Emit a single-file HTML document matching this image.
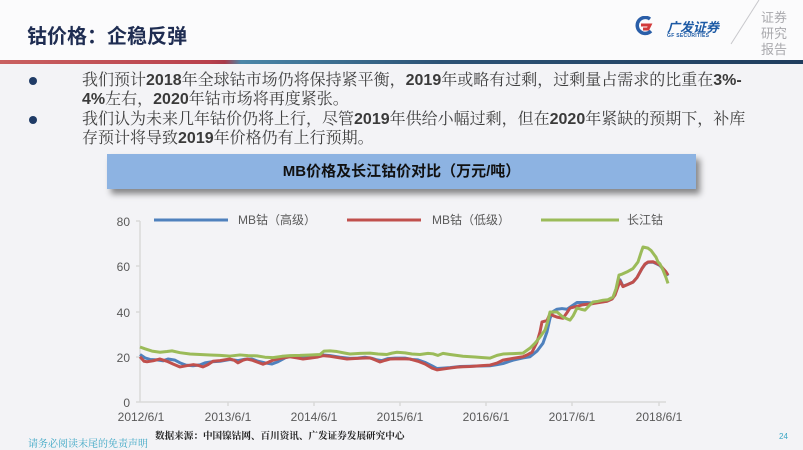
<!DOCTYPE html>
<html>
<head>
<meta charset="utf-8">
<style>
html,body{margin:0;padding:0;}
body{width:803px;height:449px;overflow:hidden;position:relative;background:#f3f3f6;font-family:"Liberation Sans","Noto Sans CJK SC",sans-serif;}
.top{position:absolute;left:0;top:0;width:803px;height:60px;background:#fbfbfc;}
.title{position:absolute;left:27px;top:20px;font-size:20px;font-weight:bold;color:#1f2d52;letter-spacing:0px;font-family:"Liberation Sans","Noto Sans CJK SC",sans-serif;}
.gline{position:absolute;left:0;top:60px;width:803px;height:4px;background:linear-gradient(to right,#c96060 0%,#b8404c 26%,#a83a4a 28%,#4a86a8 30%,#2c5275 55%,#1f3d5e 100%);}
.bul{position:absolute;left:29px;width:8px;height:8px;border-radius:50%;background:#1f3b66;}
.txt{position:absolute;left:82px;font-size:16px;color:#404040;font-family:"Liberation Sans","Noto Serif CJK SC","Noto Sans CJK SC",sans-serif;white-space:nowrap;line-height:19px;}
.txt b{font-family:"Liberation Sans",sans-serif;font-weight:bold;color:#3a3a3a;}
.banner{position:absolute;left:107px;top:154px;width:589px;height:35px;background:#8db3e2;box-shadow:4px 5px 6px rgba(0,0,0,0.45);text-align:center;line-height:35px;font-size:15px;font-weight:bold;color:#111;font-family:"Liberation Sans","Noto Sans CJK SC",sans-serif;}
.src{position:absolute;left:155px;top:428px;font-size:9.6px;font-weight:bold;color:#222;font-family:"Liberation Sans","Noto Serif CJK SC",sans-serif;white-space:nowrap;}
.disc{position:absolute;left:28px;top:435px;font-size:10px;color:#3aa6c4;font-family:"Liberation Sans","Noto Serif CJK SC",sans-serif;white-space:nowrap;}
.pg{position:absolute;left:779px;top:432px;font-size:8px;color:#3aa6c4;}
.logo-t{position:absolute;left:667px;top:17px;font-size:13px;font-weight:bold;color:#1d5aa5;font-style:italic;letter-spacing:0px;white-space:nowrap;}
.logo-s{position:absolute;left:667px;top:33px;font-size:5px;font-weight:bold;color:#1d5aa5;white-space:nowrap;letter-spacing:0.3px;}
.side{position:absolute;left:761px;top:10px;font-size:13px;line-height:16px;color:#a9a9ad;width:30px;font-family:"Liberation Sans","Noto Sans CJK SC",sans-serif;}
</style>
</head>
<body>
<div class="top"></div>
<div class="title">钴价格：企稳反弹</div>
<div class="gline"></div>

<!-- logo -->
<svg style="position:absolute;left:634px;top:16px" width="22" height="20" viewBox="0 0 22 20">
  <path d="M16 3 A8 8 0 1 0 17 15" fill="none" stroke="#2a5ea8" stroke-width="3.5"/>
  <path d="M7 9 H16 L14 13 H9" fill="none" stroke="#d23b3b" stroke-width="3"/>
</svg>
<div class="logo-t">广发证券</div>
<div class="logo-s">GF SECURITIES</div>
<svg style="position:absolute;left:725px;top:0" width="40" height="48"><line x1="34" y1="0" x2="6" y2="44" stroke="#c8c8cc" stroke-width="1"/></svg>
<div class="side">证券<br>研究<br>报告</div>

<div class="bul" style="top:77px"></div>
<div class="bul" style="top:116px"></div>
<div class="txt" style="top:71px">我们预计<b>2018</b>年全球钴市场仍将保持紧平衡，<b>2019</b>年或略有过剩，过剩量占需求的比重在<b>3%-</b></div>
<div class="txt" style="top:90px"><b>4%</b>左右，<b>2020</b>年钴市场将再度紧张。</div>
<div class="txt" style="top:110px">我们认为未来几年钴价仍将上行，尽管<b>2019</b>年供给小幅过剩，但在<b>2020</b>年紧缺的预期下，补库</div>
<div class="txt" style="top:129px">存预计将导致<b>2019</b>年价格仍有上行预期。</div>

<div class="banner">MB价格及长江钴价对比（万元/吨）</div>

<svg style="position:absolute;left:0;top:0" width="803" height="449" viewBox="0 0 803 449">
  <g font-family="Liberation Sans, Noto Sans CJK SC, sans-serif" font-size="12" fill="#595959">
    <text x="130" y="226" text-anchor="end">80</text>
    <text x="130" y="271" text-anchor="end">60</text>
    <text x="130" y="317" text-anchor="end">40</text>
    <text x="130" y="362" text-anchor="end">20</text>
    <text x="130" y="407" text-anchor="end">0</text>
    <g text-anchor="middle">
      <text x="141" y="421">2012/6/1</text>
      <text x="228" y="421">2013/6/1</text>
      <text x="314" y="421">2014/6/1</text>
      <text x="400" y="421">2015/6/1</text>
      <text x="486" y="421">2016/6/1</text>
      <text x="572" y="421">2017/6/1</text>
      <text x="659" y="421">2018/6/1</text>
    </g>
    <text x="238" y="224">MB钴（高级）</text>
    <text x="432" y="224">MB钴（低级）</text>
    <text x="627" y="224">长江钴</text>
  </g>
  <line x1="154" y1="220" x2="228" y2="220" stroke="#4f81bd" stroke-width="3"/>
  <line x1="347" y1="220" x2="421" y2="220" stroke="#c0504d" stroke-width="3"/>
  <line x1="541" y1="220" x2="619" y2="220" stroke="#9bbb59" stroke-width="3"/>
  <g stroke="#d9d9d9" stroke-width="1.5" fill="none">
    <line x1="140" y1="221" x2="140" y2="402"/>
    <line x1="140" y1="402" x2="666" y2="402"/>
    <line x1="136" y1="221" x2="140" y2="221"/>
    <line x1="136" y1="266" x2="140" y2="266"/>
    <line x1="136" y1="312" x2="140" y2="312"/>
    <line x1="136" y1="357" x2="140" y2="357"/>
    <line x1="136" y1="402" x2="140" y2="402"/>
    <line x1="228" y1="402" x2="228" y2="406"/>
    <line x1="314" y1="402" x2="314" y2="406"/>
    <line x1="400" y1="402" x2="400" y2="406"/>
    <line x1="486" y1="402" x2="486" y2="406"/>
    <line x1="572" y1="402" x2="572" y2="406"/>
    <line x1="659" y1="402" x2="659" y2="406"/>
  </g>
  <g transform="translate(0,402) scale(1,-2.2625)" fill="none" stroke-linejoin="round">
    <polyline vector-effect="non-scaling-stroke" stroke="#4f81bd" stroke-width="3" points="140,21 145,19.5 150,18.8 157,18.6 163,18.2 168,19 175,18.5 180,17.3 186,16.3 193,16 200,16.4 205,17.3 212,17.8 220,18 230,18.8 238,18.3 245,18.9 252,19 258,18 265,17.3 272,16.8 278,17.8 285,19.5 290,20.2 300,20 310,19.7 318,20.1 323,20.8 330,20.5 340,19.8 350,19.3 358,19.4 365,19.8 372,19.3 377,18.6 382,18.3 388,19.2 395,19.4 405,19.4 412,18.8 418,18.6 425,17.5 432,16 437,14.8 443,15 450,15.2 460,15.7 470,15.8 480,15.9 490,16 497,16.5 503,17 513,18.5 523,19.5 530,20 537,22.5 543,26 547,31 550,37 553,40 557,41 562,41.3 567,41 572,42.5 577,44 587,44 593,43.7 600,44.2 607,44.6 612,45.6 615,47.5 618,51.5 620,54 623,51.2 628,52 633,53 637,55 642,59 645,60.8 648,61.7 653,61.8 657,61 660,60.3 663,58.8 666,57.3 668,55.8"/>
    <polyline vector-effect="non-scaling-stroke" stroke="#c0504d" stroke-width="3" points="140,20 144,18 147,17.8 153,18.2 160,19 167,18 173,16.8 180,15.5 186,16 193,16.5 198,16.2 203,15.5 208,16.5 213,18 220,18.3 230,19 234,18.5 238,17.3 243,18.5 247,19 252,18.5 258,17.5 263,16.7 268,17.5 273,18.5 280,19.2 290,20 297,19.5 303,19 310,19.4 318,19.9 323,20.5 330,20.2 340,19.5 347,19 355,19.2 362,19.4 370,19.5 375,18.6 380,17.7 385,18.4 390,19 400,19.1 410,19 418,18 425,16.8 432,15 437,14.2 443,14.6 450,15 457,15.4 463,15.6 470,15.7 480,16 490,16.3 497,17.2 503,18.5 513,19.3 523,20 528,21 532,22 537,26.5 540,31 542,35.4 547,36 550,39 553,38.2 557,37.5 563,37 567,39.5 570,41.5 576,42.2 583,43 593,43.5 600,44 607,44.5 612,45.5 615,47.3 618,51 620,53.5 623,51 628,52 633,53 637,55 642,59 645,61 648,61.9 653,62 657,61.2 660,60.5 663,59 666,57.5 668,56.1"/>
    <polyline vector-effect="non-scaling-stroke" stroke="#9bbb59" stroke-width="3" points="140,24.3 145,23.5 152,22.5 160,22 167,22.3 172,22.6 180,21.8 190,21.2 200,21 210,20.8 220,20.6 230,20.3 240,20.8 248,20.5 257,20.4 265,19.8 273,19.6 282,20.2 290,20.5 300,20.6 310,20.8 320,21 324,22.5 330,22.6 337,22.3 345,21.6 350,21.2 360,21.5 370,21.6 378,21.2 387,21 392,21.6 397,22 405,21.7 412,21.2 420,21 428,21.5 433,21.3 438,20.6 443,21.5 450,21 463,20.2 475,19.9 483,19.6 490,19.4 497,20.6 503,21.2 513,21.4 523,21.6 530,23.8 535,26 540,28.7 545,31.8 548,36 550,39.8 557,39.8 563,37.5 570,36.2 573,38 577,41.5 581,41 585,40.6 589,42.5 593,44.2 598,44.5 603,45 608,45.2 613,46.4 616,50 619,56.1 622,56.5 627,57.5 633,59 638,61.9 641,66 643,68.5 648,68 651,67 653,65.8 656,64 658,61.9 660,61 663,58.3 666,55 668,52.4"/>
  </g>
</svg>

<div class="src">数据来源：中国镍钴网、百川资讯、广发证券发展研究中心</div>
<div class="disc">请务必阅读末尾的免责声明</div>
<div class="pg">24</div>
</body>
</html>
